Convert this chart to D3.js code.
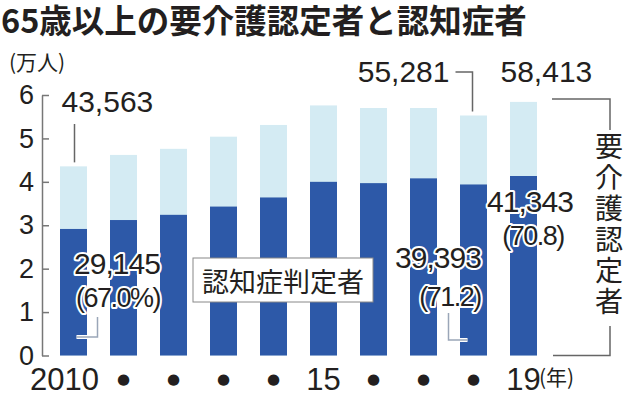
<!DOCTYPE html>
<html>
<head>
<meta charset="utf-8">
<script src="https://cdn.jsdelivr.net/npm/d3@7"></script>
<style>
  body { margin: 0; background: #fff; }
  text { fill: #231f20; }
</style>
</head>
<body>
<div id="chart"></div>
<script>
// data (persons; axis in 万人)
const years = [2010, 2011, 2012, 2013, 2014, 2015, 2016, 2017, 2018, 2019];
const xLabels = ["2010", "●", "●", "●", "●", "15", "●", "●", "●", "19"];
const certified = [43563, 46200, 47600, 50400, 53100, 57600, 57000, 57000, 55281, 58413];
const dementia = [29145, 31200, 32400, 34300, 36400, 40000, 39700, 40800, 39393, 41343];
const shareLabels = ["(67.0%)", "(71.2)", "(70.8)"]; // for 2010, 2018, 2019
const yTicks = [0, 1, 2, 3, 4, 5, 6];

const width = 630;
const height = 398;
const darkBlue = "#2d59a8";
const lightBlue = "#d4ebf3";
const jp = "'Noto Sans CJK JP', 'Noto Sans', sans-serif";
const num = "'Liberation Sans', Arial, sans-serif";

const svg = d3.select("#chart")
  .append("svg")
  .attr("width", width)
  .attr("height", height);

const x = d3.scaleBand()
  .domain(years)
  .range([37, 560])
  .paddingInner(0.46)
  .paddingOuter(0.46);

const y = d3.scaleLinear()
  .domain([0, 6])
  .range([355.5, 95]);

const cx = i => x(years[i]) + x.bandwidth() / 2;

// title
svg.append("text")
  .attr("x", 1).attr("y", 33)
  .attr("font-family", jp).attr("font-weight", "bold")
  .attr("font-size", "32.5px")
  .text("65歳以上の要介護認定者と認知症者");

svg.append("text")
  .attr("x", 9).attr("y", 70)
  .attr("font-family", jp).attr("font-size", "21px")
  .text("(万人)");

// y axis
const yAxis = svg.append("g")
  .attr("transform", "translate(42,0)")
  .call(d3.axisLeft(y).tickValues(yTicks).tickFormat(d3.format("d"))
    .tickSizeInner(-7).tickSizeOuter(0).tickPadding(8));
yAxis.select(".domain").attr("stroke", "#777").attr("stroke-width", 1.5);
yAxis.selectAll(".tick line").attr("stroke", "#777").attr("stroke-width", 1.5);
yAxis.selectAll(".tick text")
  .attr("font-family", num).attr("font-size", "27px")
  .attr("fill", "#231f20");

// bars
svg.selectAll("rect.total").data(certified).enter()
  .append("rect")
  .attr("class", "total")
  .attr("fill", lightBlue)
  .attr("x", (d, i) => x(years[i]))
  .attr("y", d => y(d / 10000))
  .attr("width", x.bandwidth())
  .attr("height", d => y(0) - y(d / 10000));

svg.selectAll("rect.dem").data(dementia).enter()
  .append("rect")
  .attr("class", "dem")
  .attr("fill", darkBlue)
  .attr("x", (d, i) => x(years[i]))
  .attr("y", d => y(d / 10000))
  .attr("width", x.bandwidth())
  .attr("height", d => y(0) - y(d / 10000));

// x labels
svg.selectAll("text.xl").data(xLabels).enter()
  .append("text")
  .attr("class", "xl")
  .attr("x", (d, i) => cx(i) + (i === 0 ? -9 : 0))
  .attr("y", d => d === "●" ? 384 : 390)
  .attr("text-anchor", "middle")
  .attr("font-family", d => d === "●" ? "'DejaVu Sans', sans-serif" : num)
  .attr("font-size", d => d === "●" ? "15px" : "31px")
  .text(d => d);

svg.append("text")
  .attr("x", 539).attr("y", 385)
  .attr("font-family", jp).attr("font-size", "21px")
  .text("(年)");

const fmt = d3.format(",");
const line = d3.line();

// total labels
svg.append("text")
  .attr("x", cx(0) - 12).attr("y", 112)
  .attr("font-family", num).attr("font-size", "30px")
  .text(fmt(certified[0]));
svg.append("path")
  .attr("d", line([[cx(0) + 1, 124], [cx(0) + 1, y(certified[0] / 10000) - 4]]))
  .attr("fill", "none").attr("stroke", "#666").attr("stroke-width", 1.5);

svg.append("text")
  .attr("x", cx(8) - 24).attr("y", 82)
  .attr("text-anchor", "end")
  .attr("font-family", num).attr("font-size", "30px")
  .text(fmt(certified[8]));
svg.append("path")
  .attr("d", line([[cx(8) - 18, 72], [cx(8) - 1, 72], [cx(8) - 1, y(certified[8] / 10000) - 4]]))
  .attr("fill", "none").attr("stroke", "#666").attr("stroke-width", 1.5);

svg.append("text")
  .attr("x", cx(9) - 23).attr("y", 82)
  .attr("font-family", num).attr("font-size", "30px")
  .text(fmt(certified[9]));

// bracket for 要介護認定者
svg.append("path")
  .attr("d", line([[552, 99], [610, 99], [610, 130]]))
  .attr("fill", "none").attr("stroke", "#666").attr("stroke-width", 1.5);
svg.append("path")
  .attr("d", line([[610, 326], [610, y(0)], [553, y(0)]]))
  .attr("fill", "none").attr("stroke", "#666").attr("stroke-width", 1.5);
svg.append("text")
  .attr("x", 609).attr("y", 225)
  .attr("text-anchor", "middle")
  .style("writing-mode", "vertical-rl")
  .attr("letter-spacing", "3px")
  .attr("font-family", jp).attr("font-size", "28px")
  .text("要介護認定者");

// dementia labels (white halo)
function halo(sel) {
  sel.attr("font-family", num)
    .attr("stroke", "#fff").attr("stroke-width", 4)
    .attr("stroke-linejoin", "round")
    .attr("paint-order", "stroke");
}
function leader(pts) {
  svg.append("path").attr("d", line(pts))
    .attr("fill", "none").attr("stroke", "#fff").attr("stroke-width", 4);
  svg.append("path").attr("d", line(pts))
    .attr("fill", "none").attr("stroke", "#9aa6b8").attr("stroke-width", 1.5);
}

leader([[cx(0) + 24, 317], [cx(0) + 24, 337], [cx(0) + 3, 337]]);
leader([[cx(8) - 25, 313], [cx(8) - 25, 340], [cx(8) - 6, 340]]);

const demIdx = [0, 8, 9];
const numY = [274, 268, 212];
const numX = [117, 438, 530];
const shareY = [307, 306, 245];
const shareX = [118, 450, 533];

demIdx.forEach((d, k) => {
  svg.append("text").call(halo)
    .attr("x", numX[k]).attr("y", numY[k]).attr("text-anchor", "middle")
    .attr("font-size", "30px").attr("letter-spacing", "-1px")
    .text(fmt(dementia[d]));
  svg.append("text").call(halo)
    .attr("x", shareX[k]).attr("y", shareY[k]).attr("text-anchor", "middle")
    .attr("font-size", "27px").attr("letter-spacing", "-1.5px")
    .text(shareLabels[k]);
});

// legend box
svg.append("rect")
  .attr("x", 193).attr("y", 258)
  .attr("width", 180).attr("height", 44)
  .attr("fill", "#fff").attr("stroke", "#888").attr("stroke-width", 1);
svg.append("text")
  .attr("x", 283).attr("y", 280)
  .attr("text-anchor", "middle").attr("dominant-baseline", "central")
  .attr("font-family", jp).attr("font-size", "27px")
  .text("認知症判定者");
</script>
</body>
</html>
